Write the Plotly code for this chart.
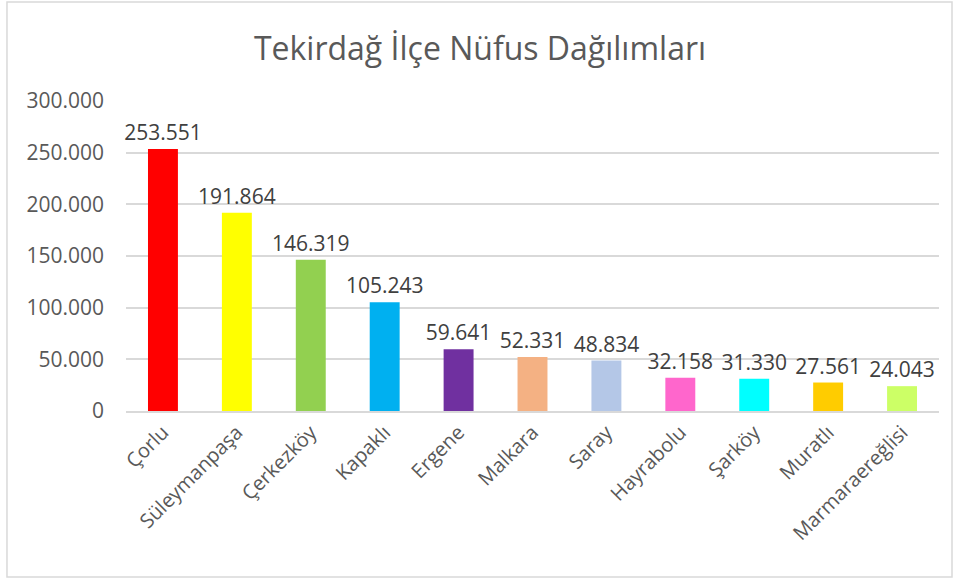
import plotly.graph_objects as go

ILCELER = ["Çorlu", "Süleymanpaşa", "Çerkezköy", "Kapaklı", "Ergene", "Malkara",
           "Saray", "Hayrabolu", "Şarköy", "Muratlı", "Marmaraereğlisi"]
NUFUS = [253551, 191864, 146319, 105243, 59641, 52331, 48834, 32158, 31330, 27561, 24043]
RENKLER = ["#ff0000", "#ffff00", "#92d050", "#00b0f0", "#7030a0", "#f4b183",
           "#b4c7e7", "#ff66cc", "#00ffff", "#ffcc00", "#ccff66"]
Y_TICKS = [0, 50000, 100000, 150000, 200000, 250000, 300000]
Y_TICK_LABELS = ["0", "50.000", "100.000", "150.000", "200.000", "250.000", "300.000"]


def nokta_ayrac(n):
    return f"{n:,}".replace(",", ".")


FONT = "Open Sans"

fig = go.Figure(
    go.Bar(
        x=ILCELER,
        y=NUFUS,
        marker=dict(color=RENKLER, line=dict(width=0)),
        text=[nokta_ayrac(v) for v in NUFUS],
        textposition="outside",
        constraintext="none",
        textfont=dict(family=FONT, size=21, color="#404040"),
        cliponaxis=False,
    )
)

fig.update_layout(
    width=960,
    height=579,
    margin=dict(l=126, r=21, t=101, b=168),
    paper_bgcolor="white",
    plot_bgcolor="white",
    bargap=0.595,
    showlegend=False,
    title=dict(
        text="Tekirdağ İlçe Nüfus Dağılımları",
        x=0.5,
        xanchor="center",
        y=0.915,
        yanchor="middle",
        font=dict(family=FONT, size=32, color="#595959"),
    ),
    font=dict(family=FONT, color="#595959"),
    shapes=[
        dict(type="rect", xref="paper", yref="paper",
             x0=-0.1464, x1=1.016, y0=-0.5355, y1=1.319,
             line=dict(color="#d9d9d9", width=1.5), fillcolor="rgba(0,0,0,0)", layer="below"),
    ],
)

fig.update_yaxes(
    range=[0, 300000],
    tickvals=Y_TICKS,
    ticktext=Y_TICK_LABELS,
    tickfont=dict(family=FONT, size=21, color="#595959"),
    showgrid=True,
    gridcolor="#d9d9d9",
    gridwidth=1.5,
    zeroline=False,
    showline=False,
    ticks="",
    ticklabelstandoff=21,
    automargin=False,
)

fig.update_xaxes(
    tickangle=-45,
    tickfont=dict(family=FONT, size=20, color="#595959"),
    showline=True,
    linecolor="#d9d9d9",
    linewidth=1.5,
    ticks="",
    showgrid=False,
    automargin=False,
)

# sayfanin varsayilan govde boslugunu kaldir
fig.write_html("out.html", config={"displayModeBar": False},
               post_script="document.body.style.margin='0px';")
